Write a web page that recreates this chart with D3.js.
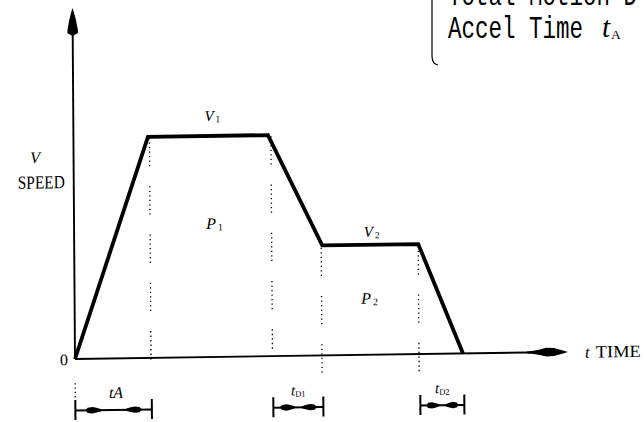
<!DOCTYPE html>
<html><head><meta charset="utf-8">
<script src="https://cdn.jsdelivr.net/npm/d3@7"></script>
<style>html,body{margin:0;padding:0;background:#fff;overflow:hidden}svg{display:block}</style>
</head><body><svg id="c" width="644" height="422"></svg>
<script>
// ---- data ----
const phaseTimes  = [0, 7.45, 19.45, 24.8, 34.4, 38.8];   // time breakpoints
const phaseSpeeds = [0, 10.05, 10.05, 5.0, 5.0, 0];      // speed at breakpoints
const axisMaxT = 49.3;
const axisMaxV = 15.95;
const dimStarts = [0, 19.8, 34.5];
const dimEnds   = [7.65, 24.8, 38.9];
const dimMain   = ["tA", "t", "t"];
const dimSub    = ["", "D1", "D2"];
const guideTimes = [7.6, 19.75, 24.7, 34.4];
const guideTop   = [10.0, 10.0, 4.9, 4.9];
const guideBottom= [-0.45, 0.3, -0.85, -1.5];
const noteLines = ["Total Motion D", "Accel Time"];

const svg = d3.select("#c");
const x = d3.scaleLinear().domain([0, 50]).range([75, 575]);
const y = d3.scaleLinear().domain([0, 16]).range([359, 7]);

// scanned figure is slightly skewed
const g = svg.append("g").attr("transform", "matrix(1,-0.0144,0.0071,1,-2.55,1.08)");
const serif = "'Liberation Serif','Times New Roman',serif";

// axes
g.append("line").attr("x1", x(0)).attr("x2", x(0)).attr("y1", y(0)).attr("y2", y(axisMaxV) + 6)
  .attr("stroke", "#000").attr("stroke-width", 1.9);
g.append("line").attr("x1", x(0)).attr("x2", x(axisMaxT) - 6).attr("y1", y(0)).attr("y2", y(0))
  .attr("stroke", "#000").attr("stroke-width", 1.9);

function shapeAt(parent, tipX, tipY, dx, dy, shape) {
  const px = -dy, py = dx;
  const left = shape.map(([d, w]) => [tipX - dx * d + px * w, tipY - dy * d + py * w]);
  const right = shape.slice().reverse().map(([d, w]) => [tipX - dx * d - px * w, tipY - dy * d - py * w]);
  parent.append("path").attr("d", "M" + [[tipX, tipY], ...left, ...right].map(p => p.join(",")).join("L") + "Z")
    .attr("fill", "#000");
}
shapeAt(g, x(0), y(axisMaxV), 0, -1, [[4, 1.3], [12, 3.4], [22, 5.2], [25, 5.2], [27.5, 1]]);
shapeAt(g, x(axisMaxT), y(0), 1, 0, [[5, 1.5], [14, 4], [22, 4.4], [28, 2.8], [36, 1.4], [41, 1]]);

// guides
guideTimes.forEach((t, i) => {
  g.append("line").attr("x1", x(t)).attr("x2", x(t)).attr("y1", y(guideTop[i])).attr("y2", y(guideBottom[i]))
    .attr("stroke", "#000").attr("stroke-width", 1.3)
    .attr("stroke-dasharray", "1.3,3.2,1.3,3.2,1.3,3.2,1.3,3.2,1.3,3.2,1.3,3.2,1.3,20");
});
g.append("line").attr("x1", x(0)).attr("x2", x(0)).attr("y1", y(-1.1)).attr("y2", y(-1.8))
  .attr("stroke", "#000").attr("stroke-width", 1.3).attr("stroke-dasharray", "1.3,3");

// profile
const line = d3.line().x((d, i) => x(phaseTimes[i])).y(d => y(d));
g.append("path").datum(phaseSpeeds).attr("d", line).attr("fill", "none")
  .attr("stroke", "#000").attr("stroke-width", 3.8).attr("stroke-linejoin", "miter");

// dimension markers
const dimY = 410.5;
dimStarts.forEach((s, i) => {
  const a = x(s), b = x(dimEnds[i]);
  const dg = g.append("g");
  dg.append("line").attr("x1", a).attr("x2", b).attr("y1", dimY).attr("y2", dimY).attr("stroke", "#000").attr("stroke-width", 2);
  [a, b].forEach(v => dg.append("line").attr("x1", v).attr("x2", v).attr("y1", dimY - 10.5).attr("y2", dimY + 9.5)
    .attr("stroke", "#000").attr("stroke-width", 2));
  const len = b - a;
  const L = Math.min(16, len * 0.3);
  const inset = len * 0.13;
  const head = [[L * 0.15, 2.6], [L * 0.45, 3.2], [L * 0.7, 2.4], [L, 1]];
  shapeAt(dg, a + inset, dimY, -1, 0, head);
  shapeAt(dg, b - inset, dimY, 1, 0, head);
  const lbl = dg.append("text").attr("x", (a + b) / 2 + (i === 0 ? 2.5 : 0)).attr("y", dimY - 12)
    .attr("text-anchor", "middle").attr("font-family", serif);
  lbl.append("tspan").text(dimMain[i]).attr("font-style", "italic").attr("font-size", i === 0 ? 16 : 15);
  if (dimSub[i]) lbl.append("tspan").text(dimSub[i]).attr("font-size", 8.5).attr("dy", 1.5);
});

// labels
function lab(px, py, main, sub, size, anchor) {
  const t = g.append("text").attr("x", px).attr("y", py).attr("font-family", serif)
    .attr("text-anchor", anchor || "middle");
  t.append("tspan").text(main).attr("font-style", "italic").attr("font-size", size);
  if (sub) t.append("tspan").text(sub).attr("font-size", size * 0.62).attr("dx", 2).attr("dy", 1.5);
  return t;
}
const mid12 = (phaseTimes[1] + phaseTimes[2]) / 2;
const mid34 = (phaseTimes[3] + phaseTimes[4]) / 2;
lab(x(mid12) + 4.5, y(phaseSpeeds[1]) - 15, "V", "1", 15);
lab(x(mid12) + 6, y(phaseSpeeds[1]) + 93, "P", "1", 16);
lab(x(mid34) + 1.5, y(phaseSpeeds[3]) - 8, "V", "2", 15);
lab(x(mid34) - 1, y(phaseSpeeds[3]) + 59, "P", "2", 16);
lab(36.5, 162.5, "V", "", 16);
g.append("text").attr("x", 42.5).attr("y", 188).attr("text-anchor", "middle").attr("font-family", serif)
  .attr("font-size", 18.5).attr("textLength", 47).attr("lengthAdjust", "spacingAndGlyphs").text("SPEED");
g.append("text").attr("x", 64).attr("y", y(0) + 6).attr("text-anchor", "middle").attr("font-family", serif)
  .attr("font-size", 16).text("0");
const tt = g.append("text").attr("x", x(axisMaxT) + 17).attr("y", y(0) + 6).attr("font-family", serif).attr("font-size", 17);
tt.append("tspan").text("t").attr("font-style", "italic");
tt.append("tspan").text("TIME").attr("dx", 6).attr("textLength", 45).attr("lengthAdjust", "spacingAndGlyphs");

// note (top right)
const note = svg.append("g");
note.append("path").attr("d", "M432,-8 L432,56 Q432,64 438,65").attr("fill", "none")
  .attr("stroke", "#000").attr("stroke-width", 1.2);
const mono = "'Liberation Mono','DejaVu Sans Mono',monospace";
const nt = note.append("text").attr("font-family", mono).attr("font-size", 32).attr("lengthAdjust", "spacingAndGlyphs");
nt.append("tspan").attr("x", 448).attr("y", 5).attr("textLength", noteLines[0].length * 13.5)
  .attr("lengthAdjust", "spacingAndGlyphs").text(noteLines[0]);
nt.append("tspan").attr("x", 448).attr("y", 38).attr("textLength", noteLines[1].length * 13.5)
  .attr("lengthAdjust", "spacingAndGlyphs").text(noteLines[1]);
nt.append("tspan").attr("x", 602).attr("y", 37).attr("font-family", serif).attr("font-style", "italic")
  .attr("font-size", 29).text("t");
nt.append("tspan").attr("dx", 1).attr("dy", 2).attr("font-family", serif).attr("font-size", 13.5).text("A");
</script></body></html>
